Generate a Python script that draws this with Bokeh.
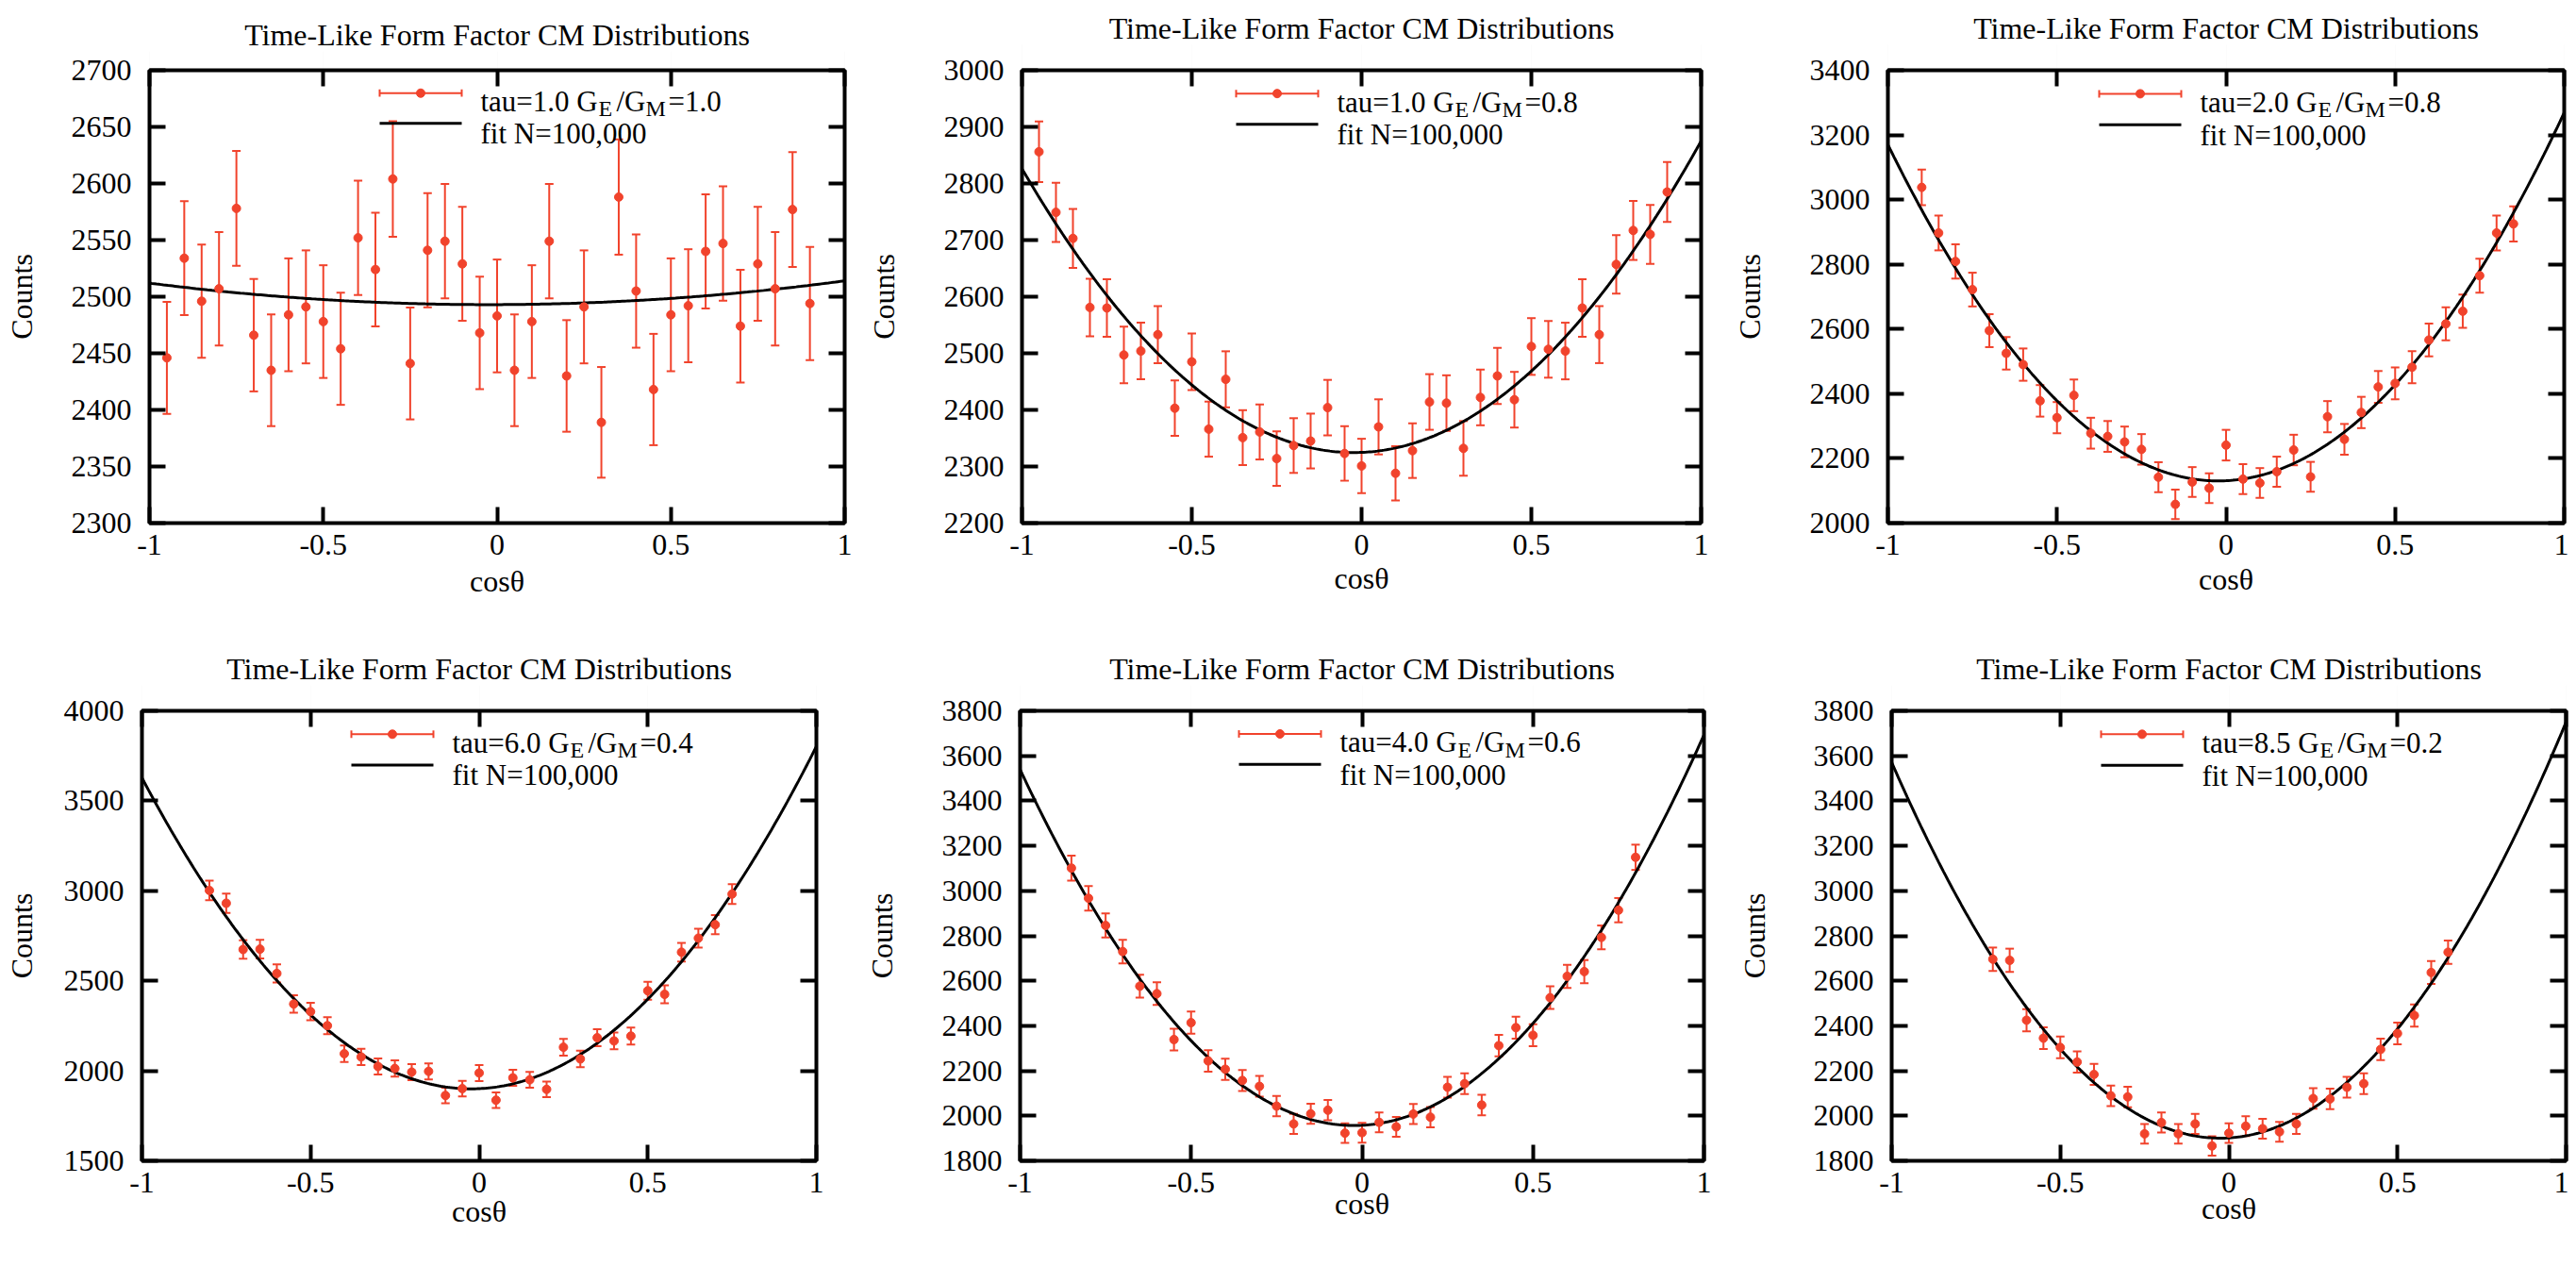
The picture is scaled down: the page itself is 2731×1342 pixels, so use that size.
import numpy as np
from bokeh.plotting import figure
from bokeh.models import (Range1d, FixedTicker, LinearAxis, Whisker, TeeHead,
                          ColumnDataSource)
from bokeh.layouts import column, row
from bokeh.core.properties import value
from bokeh.embed import file_html
from bokeh.resources import INLINE

# ---------------- data ----------------
title_text = "Time-Like Form Factor CM Distributions"
x_label = "cosθ"
y_label = "Counts"
cos_bins = [-0.95, -0.90, -0.85, -0.80, -0.75, -0.70, -0.65, -0.60, -0.55, -0.50,
            -0.45, -0.40, -0.35, -0.30, -0.25, -0.20, -0.15, -0.10, -0.05, 0.00,
            0.05, 0.10, 0.15, 0.20, 0.25, 0.30, 0.35, 0.40, 0.45, 0.50,
            0.55, 0.60, 0.65, 0.70, 0.75, 0.80, 0.85, 0.90]

taus = ["1.0", "1.0", "2.0", "6.0", "4.0", "8.5"]
ratios = ["1.0", "0.8", "0.8", "0.4", "0.6", "0.2"]
first_bin = [-0.95, -0.95, -0.90, -0.80, -0.85, -0.70]

counts_1 = [2446, 2534, 2496, 2507, 2578, 2466, 2435, 2484, 2491, 2478,
            2454, 2552, 2524, 2604, 2441, 2541, 2549, 2529, 2468, 2483,
            2435, 2478, 2549, 2430, 2491, 2389, 2588, 2505, 2418, 2484,
            2492, 2540, 2547, 2474, 2529, 2507, 2577, 2494]
counts_2 = [2856, 2749, 2703, 2581, 2580, 2497, 2504, 2533, 2403, 2485,
            2366, 2454, 2351, 2361, 2314, 2337, 2345, 2404, 2323, 2301,
            2370, 2288, 2328, 2414, 2412, 2332, 2422, 2460, 2418, 2512,
            2507, 2504, 2580, 2533, 2657, 2717, 2710, 2785]
counts_3 = [3038, 2897, 2809, 2722, 2595, 2525, 2490, 2378, 2326, 2395,
            2278, 2268, 2251, 2228, 2142, 2058, 2127, 2108, 2241, 2136,
            2124, 2159, 2226, 2143, 2329, 2259, 2342, 2421, 2432, 2482,
            2566, 2616, 2655, 2765, 2897, 2925]
counts_4 = [3002, 2931, 2674, 2676, 2541, 2371, 2329, 2251, 2095, 2077,
            2024, 2013, 1993, 1997, 1863, 1901, 1988, 1837, 1961, 1950,
            1897, 2131, 2066, 2184, 2166, 2193, 2445, 2425, 2659, 2737,
            2812, 2982]
counts_5 = [3101, 2967, 2846, 2730, 2576, 2543, 2339, 2414, 2244, 2207,
            2157, 2131, 2043, 1964, 2009, 2025, 1923, 1925, 1971, 1951,
            2008, 1994, 2127, 2143, 2048, 2312, 2392, 2358, 2525, 2620,
            2641, 2793, 2914, 3149]
counts_6 = [2696, 2691, 2425, 2345, 2304, 2239, 2184, 2089, 2084, 1920,
            1970, 1920, 1964, 1866, 1923, 1954, 1943, 1929, 1964, 2077,
            2075, 2127, 2143, 2295, 2366, 2446, 2637, 2727]
all_counts = [counts_1, counts_2, counts_3, counts_4, counts_5, counts_6]

# fit curve values read at cos(theta) = -1, 0, +1
fit_left = [2512, 2826, 3170, 3628, 3539, 3571]
fit_mid = [2493, 2325, 2131, 1901, 1958, 1902]
fit_right = [2514, 2875, 3269, 3802, 3693, 3750]

y_lims = [(2300, 2700), (2200, 3000), (2000, 3400), (1500, 4000), (1800, 3800), (1800, 3800)]
y_steps = [50, 100, 200, 500, 200, 200]
x_ticks = [-1, -0.5, 0, 0.5, 1]
x_tick_labels = ["-1", "-0.5", "0", "0.5", "1"]

# ---------------- layout / style ----------------
FONT = "Liberation Serif"
RED = "#f1432c"
col_w = [912, 910, 901]
row_h = [665, 661]
# frame borders (left, right, top, bottom) in px
borders = [(158, 17, 65, 105),
           (171, 19, 74, 105),
           (179, 5, 72, 111),
           (150, 47, 84, 96),
           (169, 16, 86, 88),
           (183, 3, 88, 93)]
title_space = [20, 27, 27, 27, 27, 27]   # gap between title and frame
ylab_standoff = [32, 43, 43, 24, 43, 42]
xlab_standoff = [7, 4, 5, -1, -9, -4]


def make_panel(k):
    W = col_w[k % 3]
    H = row_h[k // 3]
    bl, br, bt, bb = borders[k]
    ymin, ymax = y_lims[k]
    fw = W - bl - br
    fh = H - bt - bb

    p = figure(width=W, height=H, x_range=Range1d(-1, 1), y_range=Range1d(ymin, ymax),
               output_backend="svg", toolbar_location=None,
               min_border_left=bl, min_border_right=br, min_border_top=bt, min_border_bottom=bb)
    p.title.text = title_text
    p.title.text_font = FONT
    p.title.text_font_size = "32px"
    p.title.text_font_style = "normal"
    p.title.text_color = "black"
    p.title.align = "center"
    p.title.vertical_align = "bottom"
    p.title.standoff = 0
    p.xgrid.visible = False
    p.ygrid.visible = False
    p.outline_line_color = "black"
    p.outline_line_width = 4
    p.outline_line_alpha = 1.0
    p.background_fill_color = "white"
    p.border_fill_color = "white"

    yt = list(range(ymin, ymax + 1, y_steps[k]))
    for ax, ticks in ((p.xaxis[0], x_ticks), (p.yaxis[0], yt)):
        ax.ticker = FixedTicker(ticks=ticks)
        ax.major_tick_in = 17
        ax.major_tick_out = 0
        ax.major_tick_line_width = 4
        ax.major_tick_line_color = "black"
        ax.minor_tick_line_color = None
        ax.axis_line_color = None
        ax.major_label_text_font = FONT
        ax.major_label_text_font_size = "32px"
        ax.major_label_text_color = "black"
        ax.axis_label_text_font = FONT
        ax.axis_label_text_font_size = "32px"
        ax.axis_label_text_font_style = "normal"
        ax.axis_label_text_color = "black"
    p.xaxis[0].major_label_overrides = {t: s for t, s in zip(x_ticks, x_tick_labels)}
    p.xaxis[0].major_label_standoff = 12
    p.xaxis[0].axis_label = x_label
    p.xaxis[0].axis_label_standoff = xlab_standoff[k]
    p.yaxis[0].major_label_standoff = 19
    p.yaxis[0].axis_label = y_label
    p.yaxis[0].axis_label_standoff = ylab_standoff[k]

    # mirrored ticks on top and right
    for loc, ticks in (("above", x_ticks), ("right", yt)):
        ax = LinearAxis(ticker=FixedTicker(ticks=ticks), major_tick_in=17, major_tick_out=0,
                        major_tick_line_width=4, minor_tick_line_color=None,
                        axis_line_color=None, major_label_text_font_size="0px",
                        major_label_text_color=None, major_label_standoff=0)
        p.add_layout(ax, loc)
    # invisible spacer between frame and title
    spacer = LinearAxis(ticker=FixedTicker(ticks=x_ticks), major_tick_in=0,
                        major_tick_out=title_space[k], major_tick_line_alpha=0.01,
                        major_tick_line_width=1, minor_tick_line_color=None,
                        axis_line_color=None, major_label_text_font_size="0px",
                        major_label_text_color=None, major_label_standoff=0)
    p.add_layout(spacer, "above")

    # fit curve
    a = fit_mid[k]
    b = (fit_right[k] - fit_left[k]) / 2.0
    c = (fit_right[k] + fit_left[k]) / 2.0 - fit_mid[k]
    xs = np.linspace(-1, 1, 301)
    p.line(xs, a + b * xs + c * xs ** 2, line_color="black", line_width=3)

    # data with error bars
    cts = np.array(all_counts[k], dtype=float)
    i0 = cos_bins.index(first_bin[k])
    xv = cos_bins[i0:i0 + len(cts)]
    err = np.sqrt(cts)
    src = ColumnDataSource(data=dict(x=xv, y=cts, upper=cts + err, lower=cts - err))
    wh = Whisker(base="x", upper="upper", lower="lower", source=src,
                 line_color=RED, line_width=2,
                 upper_head=TeeHead(size=9, line_color=RED, line_width=2),
                 lower_head=TeeHead(size=9, line_color=RED, line_width=2))
    p.add_layout(wh)
    p.scatter("x", "y", source=src, size=9, fill_color=RED, line_color=RED)

    # key (top right), positioned in px from the frame's right/top edges
    def rx(px_from_right):
        return -1 + 2.0 * (fw - px_from_right) / fw

    def dy(px_from_top):
        return ymax - (ymax - ymin) * px_from_top / fh

    s0, s1 = 493, 406
    p.segment(x0=[rx(s0)], y0=[dy(25)], x1=[rx(s1)], y1=[dy(25)], line_color=RED, line_width=2)
    p.segment(x0=[rx(s0), rx(s1)], y0=[dy(21), dy(21)], x1=[rx(s0), rx(s1)], y1=[dy(29), dy(29)],
              line_color=RED, line_width=2)
    p.scatter([rx((s0 + s1) / 2.0)], [dy(25)], size=9, fill_color=RED, line_color=RED)
    p.segment(x0=[rx(s0)], y0=[dy(58)], x1=[rx(s1)], y1=[dy(58)], line_color="black", line_width=3)

    t0 = 386
    pieces = [("tau=" + taus[k] + " G", 0, 34, "31px"),
              ("E", 125, 42, "24px"),
              ("/G", 144, 34, "31px"),
              ("M", 175, 42, "24px"),
              ("=" + ratios[k], 199, 34, "31px"),
              ("fit N=100,000", 0, 69, "31px")]
    for txt, off, base, fs in pieces:
        p.text(x=[rx(t0 - off)], y=[dy(base)], text=[txt], text_font=value(FONT),
               text_font_size=value(fs), text_align="left", text_baseline="alphabetic",
               text_color="black")
    return p


panels = [make_panel(k) for k in range(6)]
layout = column(row(panels[0], panels[1], panels[2]), row(panels[3], panels[4], panels[5]))

open("out.html", "w").write(file_html(layout, INLINE))
